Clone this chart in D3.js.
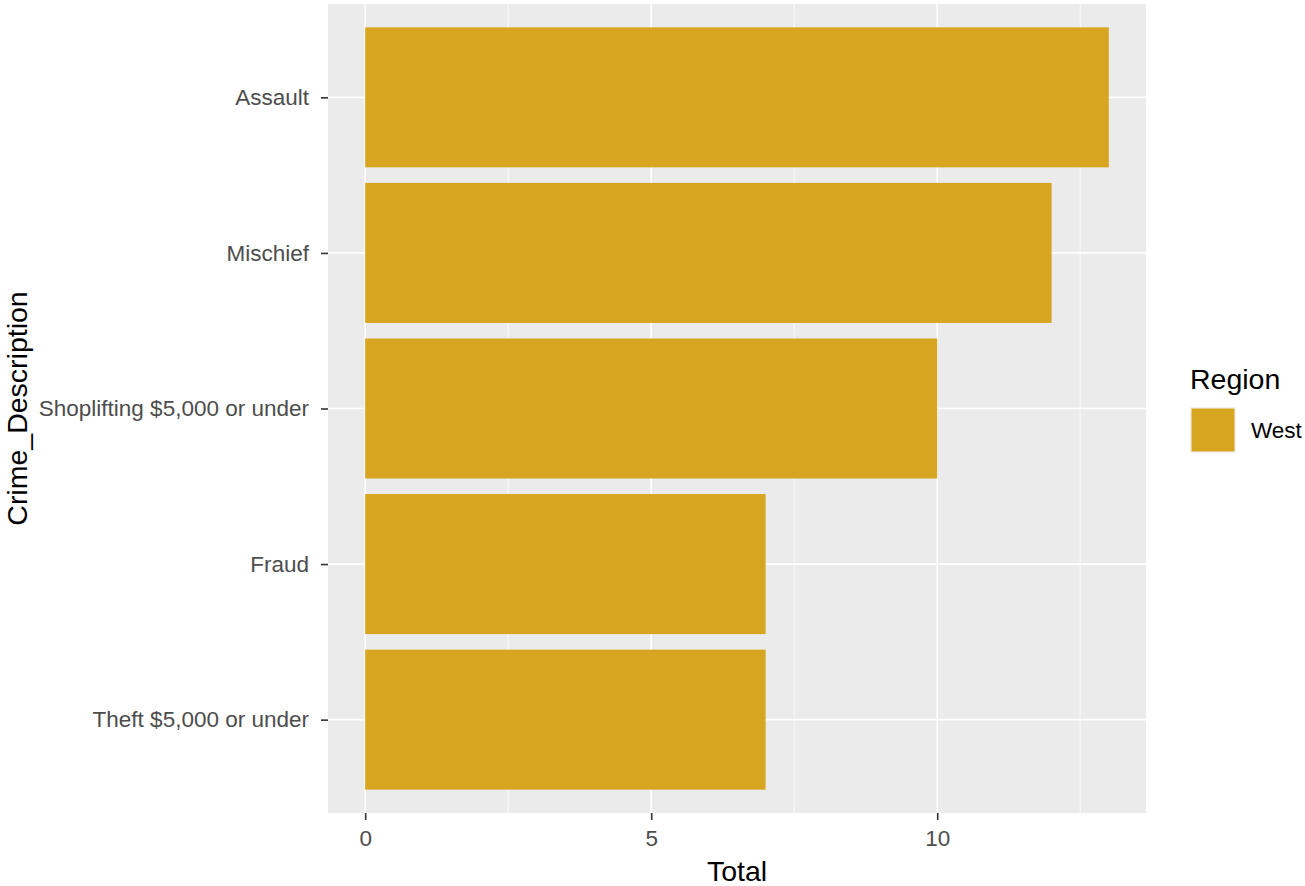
<!DOCTYPE html>
<html><head><meta charset="utf-8">
<script src="https://cdn.jsdelivr.net/npm/d3@7"></script>
<style>body{margin:0;background:#fff;} text{font-family:"Liberation Sans",Arial,sans-serif;}</style>
</head><body>
<svg id="c" width="1305" height="886"></svg>
<script>
const categories = ["Assault","Mischief","Shoplifting $5,000 or under","Fraud","Theft $5,000 or under"];
const totals = [13,12,10,7,7];
const xTicks = [0,5,10];
const seriesName = "West";
const legendTitle = "Region";
const barColor = "#D8A520";

const svg = d3.select("#c");
const P = {l:328, r:1146, t:4, b:813};
const x = d3.scaleLinear().domain([-0.65, 13.65]).range([P.l, P.r]);
const n = categories.length;
const step = (P.b - P.t) / (n - 1 + 1.2);
const yPos = d3.scalePoint().domain(categories).range([P.t+step*0.6, P.b-step*0.6]);

svg.append("rect").attr("x",P.l).attr("y",P.t).attr("width",P.r-P.l).attr("height",P.b-P.t).attr("fill","#EBEBEB");
const minor = [2.5,7.5,12.5];
svg.selectAll(".mg").data(minor).enter().append("line")
  .attr("x1",d=>x(d)).attr("x2",d=>x(d)).attr("y1",P.t).attr("y2",P.b)
  .attr("stroke","#fff").attr("stroke-width",0.8);
svg.selectAll(".xg").data(xTicks).enter().append("line")
  .attr("x1",d=>x(d)).attr("x2",d=>x(d)).attr("y1",P.t).attr("y2",P.b)
  .attr("stroke","#fff").attr("stroke-width",1.6);
svg.selectAll(".yg").data(categories).enter().append("line")
  .attr("x1",P.l).attr("x2",P.r).attr("y1",d=>yPos(d)).attr("y2",d=>yPos(d))
  .attr("stroke","#fff").attr("stroke-width",1.6);

const bh = step*0.9;
svg.selectAll(".bar").data(categories).enter().append("rect")
  .attr("x",x(0)).attr("y",d=>yPos(d)-bh/2)
  .attr("width",(d,i)=>x(totals[i])-x(0)).attr("height",bh)
  .attr("fill",barColor);

const xa = svg.append("g").attr("transform",`translate(0,${P.b})`)
  .call(d3.axisBottom(x).tickValues(xTicks).tickSize(7).tickPadding(10).tickFormat(d3.format("d")));
xa.select(".domain").remove();
xa.selectAll("line").attr("stroke","#333").attr("stroke-width",1.6);
xa.selectAll("text").attr("fill","#4D4D4D").style("font-size","22.5px").style("font-family","Liberation Sans, Arial, sans-serif");

const ya = svg.append("g").attr("transform",`translate(${P.l},0)`)
  .call(d3.axisLeft(yPos).tickSize(7).tickPadding(12));
ya.select(".domain").remove();
ya.selectAll("line").attr("stroke","#333").attr("stroke-width",1.6);
ya.selectAll("text").attr("fill","#4D4D4D").style("font-size","22.5px").style("font-family","Liberation Sans, Arial, sans-serif");

svg.append("text").attr("x",(P.l+P.r)/2).attr("y",881).attr("text-anchor","middle")
  .style("font-size","28.5px").attr("fill","#000").text("Total");
svg.append("text").attr("transform",`translate(27,${(P.t+P.b)/2}) rotate(-90)`).attr("text-anchor","middle")
  .style("font-size","28.5px").attr("fill","#000").text("Crime_Description");

svg.append("text").attr("x",1190).attr("y",389).style("font-size","28.5px").attr("fill","#000").text(legendTitle);
svg.append("rect").attr("x",1190).attr("y",407).attr("width",46).attr("height",46).attr("fill","#F2F2F2");
svg.append("rect").attr("x",1191.5).attr("y",408.5).attr("width",43).attr("height",43).attr("fill",barColor);
svg.append("text").attr("x",1251).attr("y",438).style("font-size","22.5px").attr("fill","#000").text(seriesName);
</script>
</body></html>
